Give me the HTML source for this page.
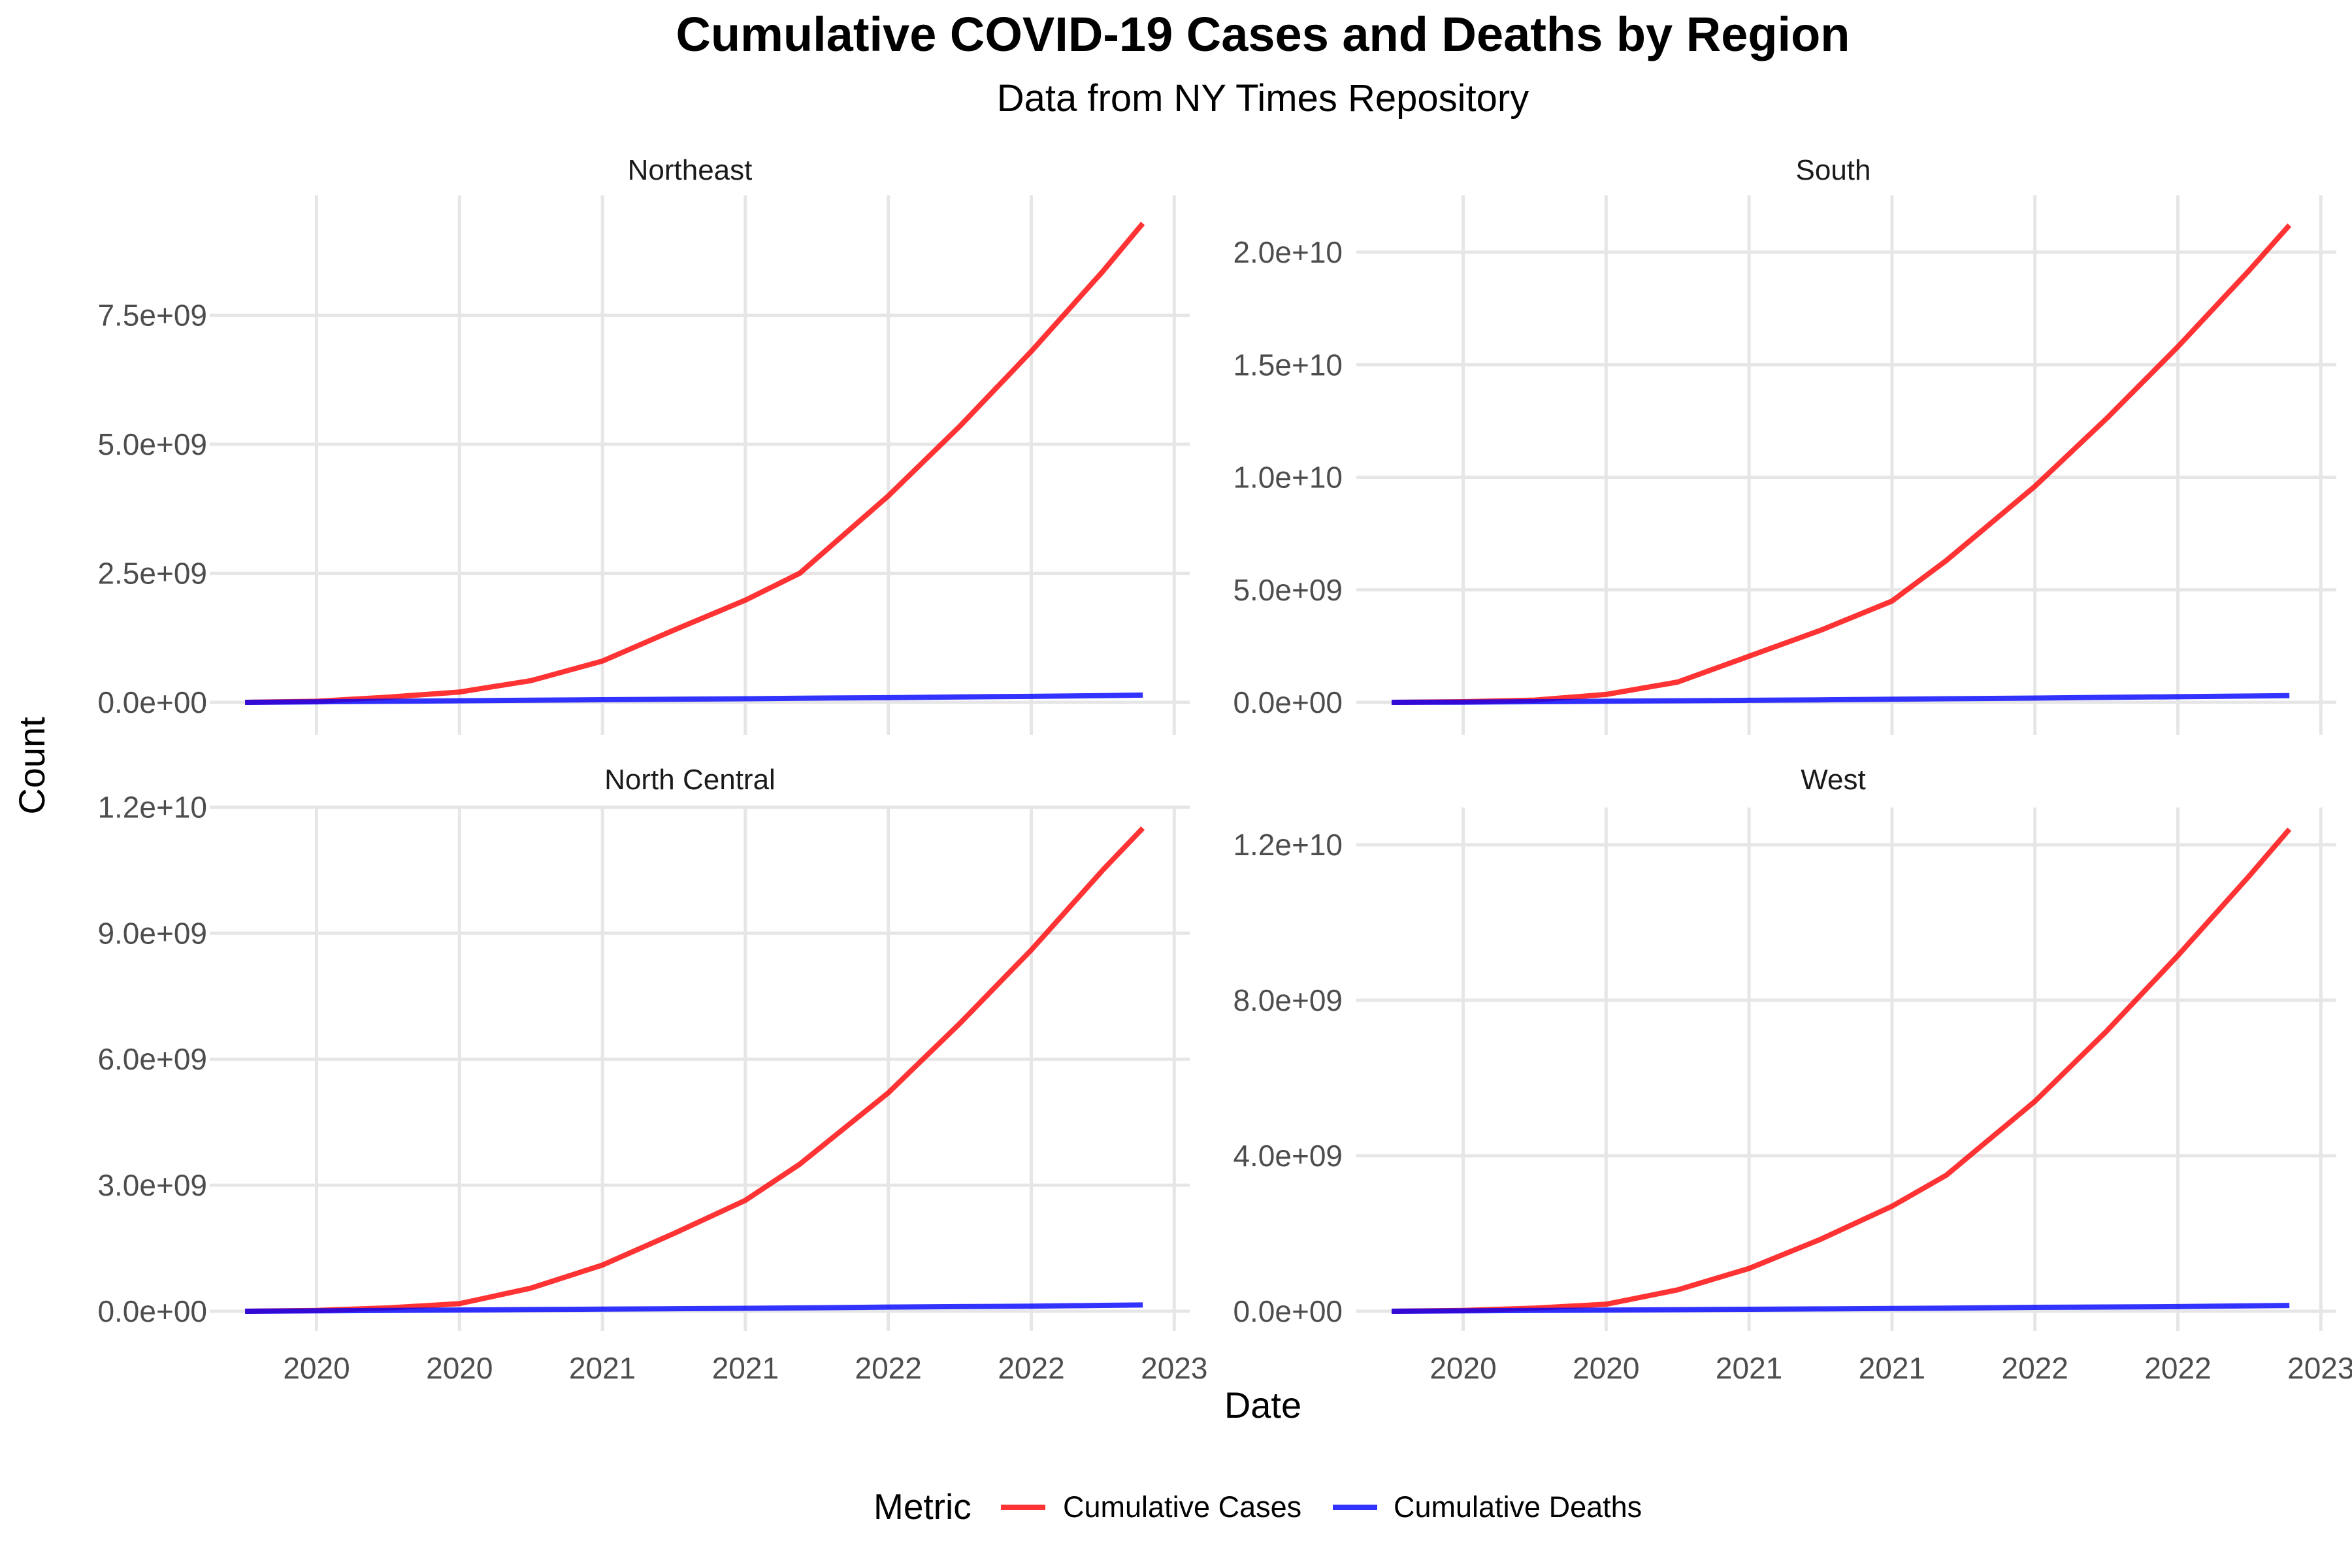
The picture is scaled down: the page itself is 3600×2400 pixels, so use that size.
<!DOCTYPE html>
<html><head><meta charset="utf-8"><style>
html,body{margin:0;padding:0;background:#fff;}
svg{display:block;font-family:"Liberation Sans",Arial,sans-serif;}
</style></head><body>
<svg id="chart" width="3600" height="2400" viewBox="0 0 3600 2400" xmlns="http://www.w3.org/2000/svg">
<rect width="3600" height="2400" fill="#fff"/>
<text x="1933" y="78" font-size="74" font-weight="bold" text-anchor="middle" fill="#000">Cumulative COVID-19 Cases and Deaths by Region</text>
<text x="1933" y="170" font-size="58" text-anchor="middle" fill="#000">Data from NY Times Repository</text>
<g id="panels"></g>
<text x="1933" y="2170" font-size="56" text-anchor="middle" fill="#000">Date</text>
<text transform="translate(68,1172) rotate(-90)" font-size="56" text-anchor="middle" fill="#000">Count</text>
<g>
<text x="1337" y="2325" font-size="55" fill="#000">Metric</text>
<line x1="1532" y1="2307" x2="1600" y2="2307" stroke="#ff0000" stroke-opacity="0.8" stroke-width="8"/>
<text x="1627" y="2322" font-size="45" fill="#000">Cumulative Cases</text>
<line x1="2040" y1="2307" x2="2108" y2="2307" stroke="#0000ff" stroke-opacity="0.8" stroke-width="8"/>
<text x="2133" y="2322" font-size="45" fill="#000">Cumulative Deaths</text>
</g>
</svg>
<script>
const dates = [2019.75,2020,2020.25,2020.5,2020.75,2021,2021.25,2021.5,2021.69,2022,2022.25,2022.5,2022.75,2022.89];
const xTickValues = [2020,2020.5,2021,2021.5,2022,2022.5,2023];
const xTickLabels = ["2020","2020","2021","2021","2022","2022","2023"];
const regions = ["Northeast","South","North Central","West"];
const casesNE = [0,0.02,0.1,0.2,0.42,0.8,1.4,1.98,2.5,4.0,5.35,6.8,8.35,9.28];
const casesSouth = [0,0.03,0.1,0.35,0.9,2.05,3.2,4.5,6.3,9.6,12.6,15.8,19.2,21.2];
const casesNC = [0,0.02,0.08,0.18,0.55,1.1,1.85,2.64,3.5,5.2,6.85,8.6,10.5,11.5];
const casesWest = [0,0.02,0.08,0.18,0.55,1.1,1.85,2.7,3.5,5.4,7.2,9.15,11.2,12.4];
const deathsNE = [0,0.01,0.02,0.03,0.04,0.05,0.06,0.07,0.08,0.09,0.105,0.115,0.13,0.14];
const deathsSouth = [0,0.01,0.03,0.05,0.07,0.09,0.11,0.14,0.16,0.19,0.22,0.25,0.28,0.3];
const deathsNC = [0,0.01,0.02,0.03,0.04,0.05,0.06,0.07,0.08,0.1,0.11,0.12,0.14,0.15];
const deathsWest = [0,0.01,0.02,0.03,0.04,0.05,0.06,0.07,0.08,0.1,0.11,0.12,0.14,0.15];
const yTicksNE = [0,2.5,5,7.5];
const yTicksSouth = [0,5,10,15,20];
const yTicksNC = [0,3,6,9,12];
const yTicksWest = [0,4,8,12];
const yLabelsNE = ["0.0e+00","2.5e+09","5.0e+09","7.5e+09"];
const yLabelsSouth = ["0.0e+00","5.0e+09","1.0e+10","1.5e+10","2.0e+10"];
const yLabelsNC = ["0.0e+00","3.0e+09","6.0e+09","9.0e+09","1.2e+10"];
const yLabelsWest = ["0.0e+00","4.0e+09","8.0e+09","1.2e+10"];

const NS="http://www.w3.org/2000/svg";
const root=document.getElementById('panels');
function mk(tag,attrs,parent){const e=document.createElementNS(NS,tag);for(const k in attrs)e.setAttribute(k,attrs[k]);parent.appendChild(e);return e;}

const layout=[
 {x0:321,x1:1821,y0:299,y1:1125,zero:1075,ppu:79.0,cases:casesNE,deaths:deathsNE,ticks:yTicksNE,labels:yLabelsNE,xlabels:false,slug:'northeast',lx:317,sx:1056,sy:275},
 {x0:2076,x1:3576,y0:299,y1:1125,zero:1075,ppu:34.45,cases:casesSouth,deaths:deathsSouth,ticks:yTicksSouth,labels:yLabelsSouth,xlabels:false,slug:'south',lx:2055,sx:2806,sy:275},
 {x0:321,x1:1821,y0:1236,y1:2037,zero:2007,ppu:64.3,cases:casesNC,deaths:deathsNC,ticks:yTicksNC,labels:yLabelsNC,xlabels:true,slug:'north-central',lx:317,sx:1056,sy:1208},
 {x0:2076,x1:3576,y0:1236,y1:2037,zero:2007,ppu:59.5,cases:casesWest,deaths:deathsWest,ticks:yTicksWest,labels:yLabelsWest,xlabels:true,slug:'west',lx:2055,sx:2806,sy:1208}
];

layout.forEach((p,i)=>{
 const off=p.x0-321;
 const xs=t=>484.5+off+(t-2020)*437.6;
 const ys=v=>p.zero-v*p.ppu;
 const g=mk('g',{},root);
 
 
 const strip=mk('text',{x:p.sx,y:p.sy,'font-size':44,'text-anchor':'middle',fill:'#1a1a1a'},g);
 
 
 strip.textContent=regions[i];
 p.ticks.forEach((v,j)=>{
  const l=mk('line',{x1:p.x0,x2:p.x1,y1:ys(v),y2:ys(v),stroke:'#e6e6e6','stroke-width':5},g);
  
  
  const t=mk('text',{x:p.lx,y:ys(v)+16,'font-size':46,'text-anchor':'end',fill:'#4d4d4d'},g);
  
  
  t.textContent=p.labels[j];
 });
 xTickValues.forEach((v,j)=>{
  const l=mk('line',{x1:xs(v),x2:xs(v),y1:p.y0,y2:p.y1,stroke:'#e6e6e6','stroke-width':5},g);
  
  
  if(p.xlabels){
   const t=mk('text',{x:xs(v),y:2110,'font-size':46,'text-anchor':'middle',fill:'#4d4d4d'},g);
   
   
   t.textContent=xTickLabels[j];
  }
 });
 const pc=dates.map((d,k)=>xs(d).toFixed(1)+','+ys(p.cases[k]).toFixed(1)).join(' ');
 const lc=mk('polyline',{points:pc,fill:'none',stroke:'#ff0000','stroke-opacity':0.8,'stroke-width':8,'stroke-linejoin':'round'},g);
 
 
 const pd=dates.map((d,k)=>xs(d).toFixed(1)+','+ys(p.deaths[k]).toFixed(1)).join(' ');
 const ld=mk('polyline',{points:pd,fill:'none',stroke:'#0000ff','stroke-opacity':0.8,'stroke-width':8,'stroke-linejoin':'round'},g);
 
 
});
</script>
</body></html>
